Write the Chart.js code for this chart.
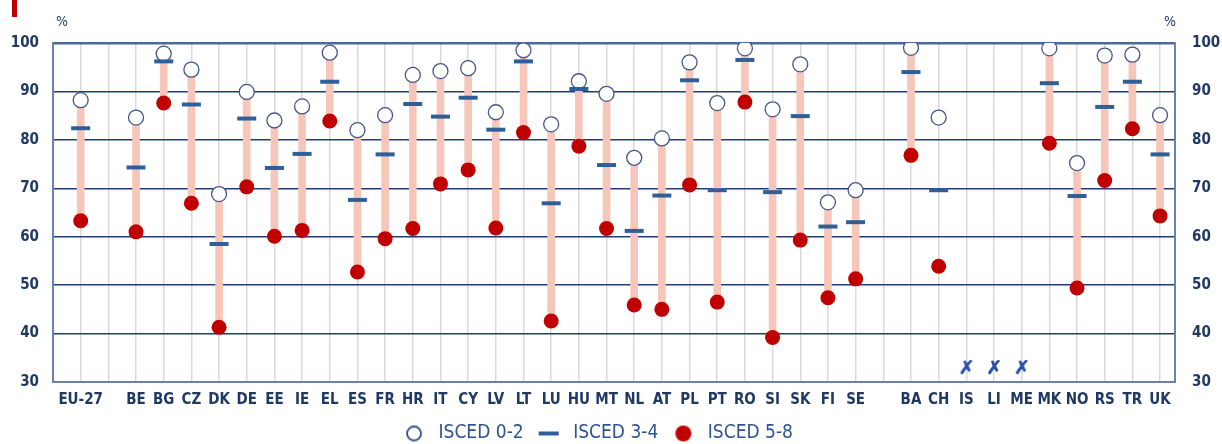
<!DOCTYPE html>
<html>
<head>
<meta charset="UTF-8" />
<title>ISCED chart</title>
<script src="https://cdn.jsdelivr.net/npm/chart.js@4.4.1/dist/chart.umd.min.js"></script>
<style>
  body { margin: 0; background: #fff; }
  #wrap { position: relative; width: 1222px; height: 444px; }
  #mark { position: absolute; left: 12px; top: 0; width: 5px; height: 17px; background: #c00000; }
</style>
</head>
<body>
<div id="wrap">
  <div id="mark"></div>
  <canvas id="chart" width="1222" height="444"></canvas>
</div>
<script>
// '' = empty slot in the category axis
const countries = ['EU-27', '', 'BE', 'BG', 'CZ', 'DK', 'DE', 'EE', 'IE', 'EL', 'ES', 'FR', 'HR', 'IT', 'CY', 'LV', 'LT',
  'LU', 'HU', 'MT', 'NL', 'AT', 'PL', 'PT', 'RO', 'SI', 'SK', 'FI', 'SE', '', 'BA', 'CH', 'IS', 'LI', 'ME', 'MK', 'NO', 'RS', 'TR', 'UK'];

const isced02 = [88.2, null, 84.6, 97.8, 94.5, 68.8, 89.9, 84.0, 86.9, 98.0, 82.0, 85.1, 93.4, 94.2, 94.8, 85.7, 98.5,
  83.2, 92.1, 89.5, 76.3, 80.3, 96.0, 87.6, 98.9, 86.3, 95.6, 67.1, 69.6, null, 99.0, 84.6, null, null, null, 98.9, 75.2, 97.4, 97.6, 85.1];

const isced34 = [82.4, null, 74.3, 96.2, 87.3, 58.5, 84.4, 74.2, 77.1, 92.0, 67.6, 77.0, 87.4, 84.8, 88.7, 82.1, 96.2,
  66.9, 90.5, 74.8, 61.2, 68.5, 92.3, 69.6, 96.5, 69.2, 84.9, 62.1, 63.0, null, 94.0, 69.6, null, null, null, 91.7, 68.4, 86.8, 92.0, 77.0];

const isced58 = [63.3, null, 61.0, 87.6, 66.9, 41.3, 70.3, 60.1, 61.3, 83.9, 52.7, 59.6, 61.7, 70.9, 73.8, 61.8, 81.5,
  42.6, 78.7, 61.7, 45.9, 45.0, 70.7, 46.5, 87.8, 39.2, 59.3, 47.4, 51.3, null, 76.8, 53.9, null, null, null, 79.3, 49.4, 71.6, 82.3, 64.3];

// not available marker (IS, LI, ME)
const notAvailable = [null, null, null, null, null, null, null, null, null, null, null, null, null, null, null, null, null,
  null, null, null, null, null, null, null, null, null, null, null, null, null, null, null, 32.7, 32.7, 32.7, null, null, null, null, null];

const noRangeLine = ['CH'];

const yTicks = [30, 40, 50, 60, 70, 80, 90, 100];

const FONT = "'DejaVu Sans Condensed', 'Liberation Sans', Arial, sans-serif";
const NAVY = '#1f3864';

const pts = arr => arr.map((v, i) => (v == null ? null : { x: i, y: v })).filter(Boolean);

const ranges = countries.map((c, i) => {
  if (isced02[i] == null || isced58[i] == null || noRangeLine.includes(c)) return null;
  return { x: i, y: [isced58[i], isced02[i]] };
}).filter(Boolean);

function makeCanvas(w, h, draw) {
  const c = document.createElement('canvas');
  c.width = w; c.height = h;
  draw(c.getContext('2d'));
  return c;
}

// cross glyph for n/a
const cross = makeCanvas(20, 20, g => {
  g.fillStyle = '#2b4ea6';
  g.font = "bold italic 19px 'DejaVu Sans'";
  g.textAlign = 'center';
  g.textBaseline = 'middle';
  g.fillText('\u2717', 10, 10);
  g.fillText('\u2717', 10.6, 10);
});

// legend symbols
const legendIcons = [
  makeCanvas(18, 18, g => {
    g.beginPath(); g.arc(9, 9, 7, 0, Math.PI * 2);
    g.fillStyle = '#fff'; g.fill();
    g.lineWidth = 1.8; g.strokeStyle = '#2e4f8a'; g.stroke();
  }),
  makeCanvas(22, 6, g => {
    g.fillStyle = '#2f5f98'; g.fillRect(1, 1, 20, 4);
  }),
  makeCanvas(18, 18, g => {
    g.beginPath(); g.arc(9, 9, 8, 0, Math.PI * 2);
    g.fillStyle = '#c00000'; g.fill();
  })
];

const percentPlugin = {
  id: 'percent',
  beforeDraw(chart) {
    // the legend sits a little left of the page centre
    if (chart.legend && !chart.legend._shifted) {
      chart.legend.left -= 15;
      chart.legend.right -= 15;
      chart.legend._shifted = true;
    }
  },
  afterDraw(chart) {
    const { ctx, chartArea } = chart;
    ctx.save();
    ctx.fillStyle = NAVY;
    ctx.font = '14px ' + FONT;
    ctx.textBaseline = 'middle';
    ctx.textAlign = 'left';
    ctx.fillText('%', chartArea.left + 3, chartArea.top - 21);
    ctx.textAlign = 'right';
    ctx.fillText('%', chartArea.right + 1, chartArea.top - 21);
    ctx.restore();
  }
};

const tickFont = { family: FONT, size: 15, weight: 'bold' };

new Chart(document.getElementById('chart'), {
  type: 'scatter',
  data: {
    datasets: [
      {
        label: 'ISCED 0-2',
        data: pts(isced02),
        pointStyle: 'circle',
        pointRadius: 7.5,
        pointBackgroundColor: '#ffffff',
        pointBorderColor: '#44548a',
        pointBorderWidth: 1.3,
        order: 3
      },
      {
        label: 'ISCED 3-4',
        data: pts(isced34),
        pointStyle: 'line',
        pointRadius: 9.5,
        pointBorderColor: '#2f5f98',
        pointBorderWidth: 4,
        order: 1
      },
      {
        label: 'ISCED 5-8',
        data: pts(isced58),
        pointStyle: 'circle',
        pointRadius: 7.5,
        pointBackgroundColor: '#c00000',
        pointBorderColor: '#c00000',
        pointBorderWidth: 0,
        order: 2
      },
      {
        type: 'bar',
        label: 'range',
        data: ranges,
        backgroundColor: '#f7c6bb',
        barThickness: 7,
        order: 4
      },
      {
        label: 'n/a',
        data: pts(notAvailable),
        pointStyle: cross,
        order: 0
      }
    ]
  },
  options: {
    responsive: false,
    animation: false,
    layout: { padding: { top: 43, bottom: -9, left: 0, right: 0 } },
    plugins: {
      tooltip: { enabled: false },
      legend: {
        position: 'bottom',
        labels: {
          generateLabels(chart) {
            const items = Chart.defaults.plugins.legend.labels.generateLabels(chart)
              .filter(item => item.datasetIndex < 3)
              .sort((a, b) => a.datasetIndex - b.datasetIndex);
            items.forEach(item => { item.pointStyle = legendIcons[item.datasetIndex]; });
            return items;
          },
          usePointStyle: true,
          pointStyleWidth: 30,
          boxHeight: 10.6,
          padding: 10,
          color: '#2e5395',
          font: { family: FONT, size: 19 }
        }
      }
    },
    scales: {
      x: {
        type: 'linear',
        offset: false,
        min: -1,
        max: 39.54,
        afterFit(scale) { scale.height = 32; },
        ticks: {
          stepSize: 1,
          includeBounds: false,
          autoSkip: false,
          maxRotation: 0,
          padding: 9,
          color: NAVY,
          font: tickFont,
          callback: v => countries[v] || ''
        },
        grid: { offset: false, color: '#d9d9d9', lineWidth: 1.5, drawTicks: false },
        border: { color: '#6b82a8', width: 2 }
      },
      y: {
        position: 'left',
        min: 30,
        max: 100,
        afterFit(scale) { scale.width = 53; },
        afterBuildTicks(scale) { scale.ticks = yTicks.map(v => ({ value: v })); },
        ticks: { padding: 14, color: NAVY, font: tickFont },
        grid: {
          drawTicks: false,
          color: ctx => (ctx.tick && ctx.tick.value === 100 ? '#4a6a98' : '#203c70'),
          lineWidth: ctx => (ctx.tick && ctx.tick.value === 100 ? 2.5 : 1.5)
        },
        border: { color: '#6b82a8', width: 2 }
      },
      y2: {
        position: 'right',
        min: 30,
        max: 100,
        afterFit(scale) { scale.width = 47; },
        afterBuildTicks(scale) { scale.ticks = yTicks.map(v => ({ value: v })); },
        ticks: { padding: 17, color: NAVY, font: tickFont },
        grid: { display: false, drawTicks: false },
        border: { color: '#6b82a8', width: 2 }
      }
    }
  },
  plugins: [percentPlugin]
});
</script>
</body>
</html>
